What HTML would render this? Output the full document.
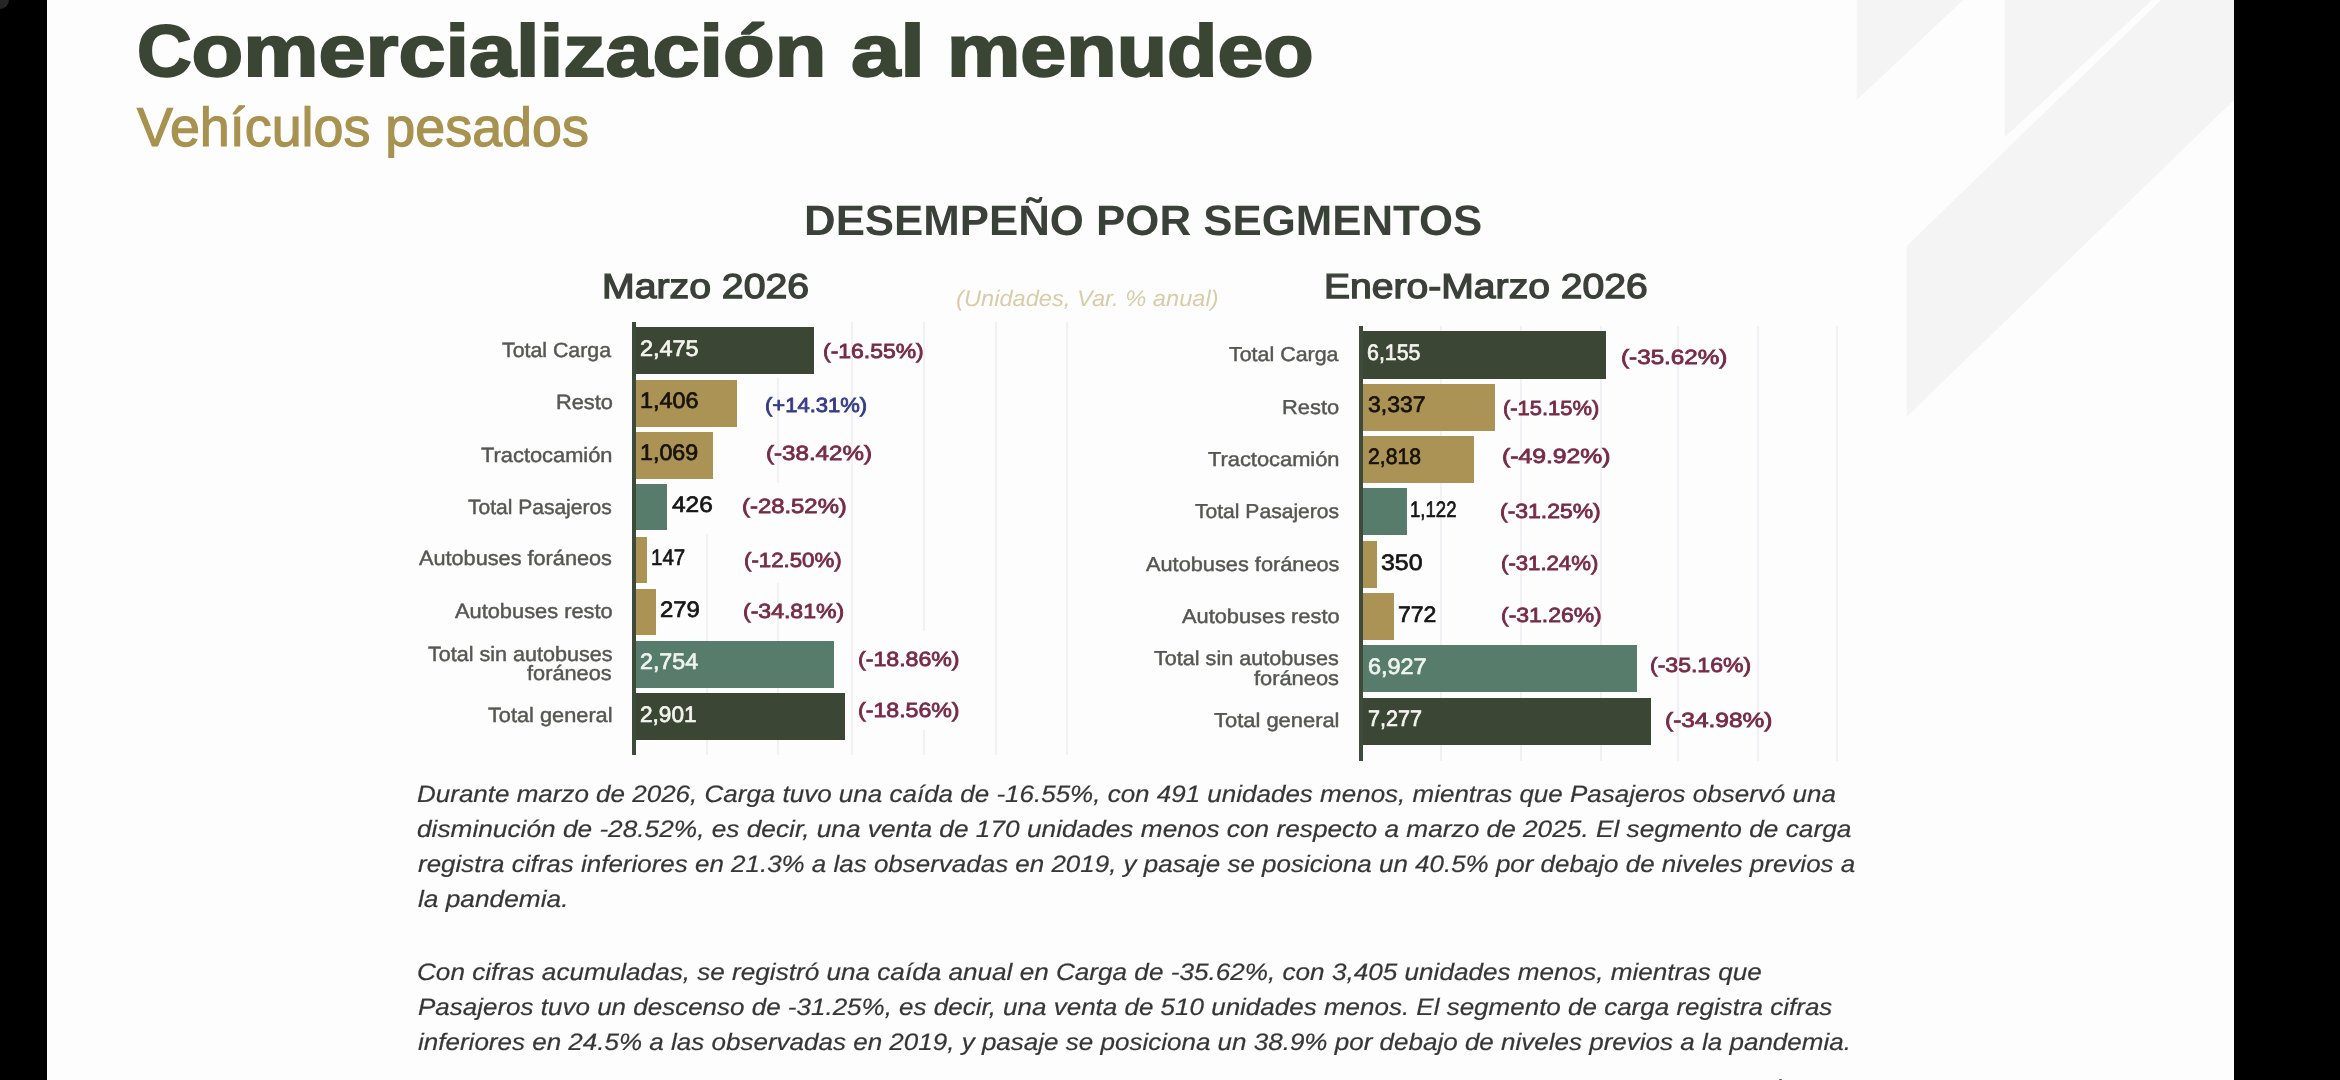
<!DOCTYPE html>
<html lang="es">
<head>
<meta charset="utf-8">
<title>Comercialización al menudeo — Vehículos pesados</title>
<style>
*{margin:0;padding:0;box-sizing:border-box}
html,body{width:2340px;height:1080px;overflow:hidden;background:#000}
body{font-family:"Liberation Sans",sans-serif;position:relative}
#slide{position:absolute;left:47px;top:0;width:2187px;height:1080px;background:#fdfdfd;overflow:hidden}
#deco{position:absolute;left:0;top:0;width:2340px;height:1080px}
#stage{position:absolute;left:0;top:0;width:2340px;height:1080px;filter:blur(.7px)}
.x{position:absolute;white-space:nowrap;line-height:1;text-rendering:geometricPrecision;transform-origin:0 0;display:block;font-weight:normal;font-style:normal}
h1,h2,h3,h4,p{font:inherit}
.h1,.h3{font-weight:bold}
.cap{display:inline-block;transform:scaleX(.895);transform-origin:0 50%;margin-right:-.078em}
.note,.para{font-style:italic}
.bar,.ax,.gl{position:absolute}
.gl{background:#f1f1f5;width:2px}
.ax{background:#3e4a3a}
</style>
</head>
<body>
<div id="slide"></div>
<svg id="deco" viewBox="0 0 2340 1080" width="2340" height="1080" aria-hidden="true">
<g fill="#f4f4f4">
<polygon points="1856.7,0 1963,0 1856.7,100"/>
<polygon points="2004.6,0 2152,0 2004.6,137.5"/>
<polygon points="2161,0 2234,0 2234,100 1906.7,416.7 1906.7,246"/>
</g>
<circle cx="0" cy="0" r="9" fill="#262626"/>
</svg>
<div id="stage">
<div class="chart" id="chart-mes">
<div class="gl" style="left:705.6px;top:534px;height:221px"></div>
<div class="gl" style="left:777.2px;top:378px;height:105px"></div>
<div class="gl" style="left:777.2px;top:583px;height:172px"></div>
<div class="gl" style="left:850.8px;top:322px;height:433px"></div>
<div class="gl" style="left:923.2px;top:322px;height:309px"></div>
<div class="gl" style="left:923.2px;top:730px;height:25px"></div>
<div class="gl" style="left:994.6px;top:322px;height:433px"></div>
<div class="gl" style="left:1065.8px;top:322px;height:433px"></div>
<div class="bar" style="left:635.6px;top:327.3px;width:178.4px;height:46.7px;background:#3b4634"></div>
<div class="bar" style="left:635.6px;top:379.6px;width:101.4px;height:47px;background:#ab9356"></div>
<div class="bar" style="left:635.6px;top:432.2px;width:77.1px;height:46.6px;background:#ab9356"></div>
<div class="bar" style="left:635.6px;top:484.1px;width:31.1px;height:46.4px;background:#587c6c"></div>
<div class="bar" style="left:635.6px;top:536.6px;width:11.1px;height:46px;background:#ab9356"></div>
<div class="bar" style="left:635.6px;top:588.6px;width:20.3px;height:46.4px;background:#ab9356"></div>
<div class="bar" style="left:635.6px;top:640.9px;width:198.4px;height:46.9px;background:#587c6c"></div>
<div class="bar" style="left:635.6px;top:693.2px;width:209.3px;height:46.8px;background:#3b4634"></div>
<div class="ax" style="left:632.1px;top:322px;width:4px;height:433.2px"></div>
</div>
<div class="chart" id="chart-acum">
<div class="gl" style="left:1440.4px;top:326px;height:434.6px"></div>
<div class="gl" style="left:1519.8px;top:326px;height:434.6px"></div>
<div class="gl" style="left:1599.8px;top:326px;height:434.6px"></div>
<div class="gl" style="left:1677.3px;top:326px;height:434.6px"></div>
<div class="gl" style="left:1757.3px;top:326px;height:434.6px"></div>
<div class="gl" style="left:1836px;top:326px;height:434.6px"></div>
<div class="bar" style="left:1362.8px;top:331.2px;width:243.5px;height:47.4px;background:#3b4634"></div>
<div class="bar" style="left:1362.8px;top:383.7px;width:132.2px;height:47px;background:#ab9356"></div>
<div class="bar" style="left:1362.8px;top:436.1px;width:111.5px;height:47px;background:#ab9356"></div>
<div class="bar" style="left:1362.8px;top:488.4px;width:44.2px;height:46.9px;background:#587c6c"></div>
<div class="bar" style="left:1362.8px;top:540.7px;width:14px;height:46.9px;background:#ab9356"></div>
<div class="bar" style="left:1362.8px;top:592.9px;width:30.9px;height:47px;background:#ab9356"></div>
<div class="bar" style="left:1362.8px;top:645.3px;width:274.2px;height:47.2px;background:#587c6c"></div>
<div class="bar" style="left:1362.8px;top:697.6px;width:288.2px;height:47.2px;background:#3b4634"></div>
<div class="ax" style="left:1359.1px;top:326px;width:4.2px;height:434.6px"></div>
</div>
<h1>
<span class="x h1" style="left:137.12px;top:15px;font-size:73px;color:#3a4534;transform:scaleX(1.1593);-webkit-text-stroke:2px #3a4534"><span class="cap">C</span>omercialización</span>
<span class="x h1" style="left:851.14px;top:15px;font-size:73px;color:#3a4534;transform:scaleX(1.2149);-webkit-text-stroke:2px #3a4534">al</span>
<span class="x h1" style="left:946.99px;top:15px;font-size:73px;color:#3a4534;transform:scaleX(1.1302);-webkit-text-stroke:2px #3a4534">menudeo</span>
</h1>
<h2 class="x h2" style="left:137.04px;top:100px;font-size:54.7px;color:#a89250;transform:scaleX(0.9842);-webkit-text-stroke:1.2px #a89250">Vehículos pesados</h2>
<h3 class="x h3" style="left:803.92px;top:200px;font-size:42.7px;color:#3a4138;transform:scaleX(1.0262)">DESEMPEÑO POR SEGMENTOS</h3>
<h4 class="x h4" style="left:601.83px;top:270px;font-size:34.7px;color:#3a4138;transform:scaleX(1.1306);-webkit-text-stroke:1.3px #3a4138">Marzo 2026</h4>
<h4 class="x h4" style="left:1324.04px;top:270px;font-size:34.7px;color:#3a4138;transform:scaleX(1.1268);-webkit-text-stroke:1.3px #3a4138">Enero-Marzo 2026</h4>
<div class="x note" style="left:955.82px;top:288px;font-size:22.6px;color:#d8cca9;transform:scaleX(1.0473)">(Unidades, Var. % anual)</div>
<div class="x lab" style="left:502.22px;top:341px;font-size:20.6px;color:#555752;transform:scaleX(1.0354);-webkit-text-stroke:0.45px #555752">Total Carga</div>
<div class="x lab" style="left:555.55px;top:393px;font-size:20.6px;color:#555752;transform:scaleX(1.0581);-webkit-text-stroke:0.45px #555752">Resto</div>
<div class="x lab" style="left:481.22px;top:446px;font-size:20.6px;color:#555752;transform:scaleX(1.0608);-webkit-text-stroke:0.45px #555752">Tractocamión</div>
<div class="x lab" style="left:468.43px;top:498px;font-size:20.6px;color:#555752;transform:scaleX(1.0204);-webkit-text-stroke:0.45px #555752">Total Pasajeros</div>
<div class="x lab" style="left:419.08px;top:549px;font-size:20.6px;color:#555752;transform:scaleX(1.0532);-webkit-text-stroke:0.45px #555752">Autobuses foráneos</div>
<div class="x lab" style="left:454.88px;top:602px;font-size:20.6px;color:#555752;transform:scaleX(1.0591);-webkit-text-stroke:0.45px #555752">Autobuses resto</div>
<div class="x lab" style="left:427.72px;top:645px;font-size:20.6px;color:#555752;transform:scaleX(1.0459);-webkit-text-stroke:0.45px #555752">Total sin autobuses</div>
<div class="x lab" style="left:527.47px;top:664px;font-size:20.6px;color:#555752;transform:scaleX(1.0563);-webkit-text-stroke:0.45px #555752">foráneos</div>
<div class="x lab" style="left:488.22px;top:706px;font-size:20.6px;color:#555752;transform:scaleX(1.0562);-webkit-text-stroke:0.45px #555752">Total general</div>
<div class="x val" style="left:640.19px;top:338px;font-size:22.4px;color:#f4f4ee;transform:scaleX(1.0459);-webkit-text-stroke:0.7px #f4f4ee">2,475</div>
<div class="x val" style="left:639.68px;top:390px;font-size:22.4px;color:#17130a;transform:scaleX(1.0449);-webkit-text-stroke:0.7px #17130a">1,406</div>
<div class="x val" style="left:639.69px;top:442px;font-size:22.4px;color:#17130a;transform:scaleX(1.0386);-webkit-text-stroke:0.7px #17130a">1,069</div>
<div class="x val" style="left:672.12px;top:494px;font-size:22.4px;color:#161616;transform:scaleX(1.0915);-webkit-text-stroke:0.7px #161616">426</div>
<div class="x val" style="left:651.45px;top:547px;font-size:22.4px;color:#161616;transform:scaleX(0.9152);-webkit-text-stroke:0.7px #161616">147</div>
<div class="x val" style="left:659.97px;top:599px;font-size:22.4px;color:#161616;transform:scaleX(1.0669);-webkit-text-stroke:0.7px #161616">279</div>
<div class="x val" style="left:640.19px;top:651px;font-size:22.4px;color:#eef5ee;transform:scaleX(1.0371);-webkit-text-stroke:0.7px #eef5ee">2,754</div>
<div class="x val" style="left:640.22px;top:704px;font-size:22.4px;color:#f4f4ee;transform:scaleX(1.0105);-webkit-text-stroke:0.7px #f4f4ee">2,901</div>
<div class="x pct" style="left:822.5px;top:342px;font-size:20.5px;color:#762c45;transform:scaleX(1.1191);-webkit-text-stroke:0.8px #762c45">(-16.55%)</div>
<div class="x pct" style="left:764.95px;top:396px;font-size:20.5px;color:#363b88;transform:scaleX(1.0729);-webkit-text-stroke:0.8px #363b88">(+14.31%)</div>
<div class="x pct" style="left:766.14px;top:444px;font-size:20.5px;color:#762c45;transform:scaleX(1.1769);-webkit-text-stroke:0.8px #762c45">(-38.42%)</div>
<div class="x pct" style="left:742.45px;top:497px;font-size:20.5px;color:#762c45;transform:scaleX(1.1645);-webkit-text-stroke:0.8px #762c45">(-28.52%)</div>
<div class="x pct" style="left:743.54px;top:551px;font-size:20.5px;color:#762c45;transform:scaleX(1.0850);-webkit-text-stroke:0.8px #762c45">(-12.50%)</div>
<div class="x pct" style="left:743.1px;top:602px;font-size:20.5px;color:#762c45;transform:scaleX(1.1236);-webkit-text-stroke:0.8px #762c45">(-34.81%)</div>
<div class="x pct" style="left:857.69px;top:650px;font-size:20.5px;color:#762c45;transform:scaleX(1.1281);-webkit-text-stroke:0.8px #762c45">(-18.86%)</div>
<div class="x pct" style="left:857.69px;top:701px;font-size:20.5px;color:#762c45;transform:scaleX(1.1281);-webkit-text-stroke:0.8px #762c45">(-18.56%)</div>
<div class="x lab" style="left:1228.76px;top:345px;font-size:20.2px;color:#555752;transform:scaleX(1.0605);-webkit-text-stroke:0.45px #555752">Total Carga</div>
<div class="x lab" style="left:1282.34px;top:398px;font-size:20.2px;color:#555752;transform:scaleX(1.0843);-webkit-text-stroke:0.45px #555752">Resto</div>
<div class="x lab" style="left:1208.26px;top:450px;font-size:20.2px;color:#555752;transform:scaleX(1.0817);-webkit-text-stroke:0.45px #555752">Tractocamión</div>
<div class="x lab" style="left:1194.97px;top:502px;font-size:20.2px;color:#555752;transform:scaleX(1.0440);-webkit-text-stroke:0.45px #555752">Total Pasajeros</div>
<div class="x lab" style="left:1145.88px;top:555px;font-size:20.2px;color:#555752;transform:scaleX(1.0775);-webkit-text-stroke:0.45px #555752">Autobuses foráneos</div>
<div class="x lab" style="left:1181.58px;top:607px;font-size:20.2px;color:#555752;transform:scaleX(1.0802);-webkit-text-stroke:0.45px #555752">Autobuses resto</div>
<div class="x lab" style="left:1154.36px;top:649px;font-size:20.2px;color:#555752;transform:scaleX(1.0695);-webkit-text-stroke:0.45px #555752">Total sin autobuses</div>
<div class="x lab" style="left:1254.43px;top:669px;font-size:20.2px;color:#555752;transform:scaleX(1.0811);-webkit-text-stroke:0.45px #555752">foráneos</div>
<div class="x lab" style="left:1214.36px;top:711px;font-size:20.2px;color:#555752;transform:scaleX(1.0856);-webkit-text-stroke:0.45px #555752">Total general</div>
<div class="x val" style="left:1367.02px;top:342px;font-size:22.4px;color:#f4f4ee;transform:scaleX(0.9548);-webkit-text-stroke:0.7px #f4f4ee">6,155</div>
<div class="x val" style="left:1367.84px;top:394px;font-size:22.4px;color:#17130a;transform:scaleX(1.0269);-webkit-text-stroke:0.7px #17130a">3,337</div>
<div class="x val" style="left:1367.77px;top:446px;font-size:22.4px;color:#17130a;transform:scaleX(0.9451);-webkit-text-stroke:0.7px #17130a">2,818</div>
<div class="x val" style="left:1410.46px;top:499px;font-size:22.4px;color:#161616;transform:scaleX(0.8291);-webkit-text-stroke:0.7px #161616">1,122</div>
<div class="x val" style="left:1380.68px;top:552px;font-size:22.4px;color:#161616;transform:scaleX(1.1131);-webkit-text-stroke:0.7px #161616">350</div>
<div class="x val" style="left:1398.39px;top:604px;font-size:22.4px;color:#161616;transform:scaleX(1.0283);-webkit-text-stroke:0.7px #161616">772</div>
<div class="x val" style="left:1367.65px;top:656px;font-size:22.4px;color:#eef5ee;transform:scaleX(1.0467);-webkit-text-stroke:0.7px #eef5ee">6,927</div>
<div class="x val" style="left:1367.74px;top:708px;font-size:22.4px;color:#f4f4ee;transform:scaleX(0.9616);-webkit-text-stroke:0.7px #f4f4ee">7,277</div>
<div class="x pct" style="left:1620.83px;top:348px;font-size:20.5px;color:#762c45;transform:scaleX(1.1826);-webkit-text-stroke:0.8px #762c45">(-35.62%)</div>
<div class="x pct" style="left:1502.56px;top:399px;font-size:20.5px;color:#762c45;transform:scaleX(1.0691);-webkit-text-stroke:0.8px #762c45">(-15.15%)</div>
<div class="x pct" style="left:1502.41px;top:447px;font-size:20.5px;color:#762c45;transform:scaleX(1.2053);-webkit-text-stroke:0.8px #762c45">(-49.92%)</div>
<div class="x pct" style="left:1499.5px;top:502px;font-size:20.5px;color:#762c45;transform:scaleX(1.1191);-webkit-text-stroke:0.8px #762c45">(-31.25%)</div>
<div class="x pct" style="left:1501.24px;top:554px;font-size:20.5px;color:#762c45;transform:scaleX(1.0805);-webkit-text-stroke:0.8px #762c45">(-31.24%)</div>
<div class="x pct" style="left:1501.2px;top:606px;font-size:20.5px;color:#762c45;transform:scaleX(1.1191);-webkit-text-stroke:0.8px #762c45">(-31.26%)</div>
<div class="x pct" style="left:1650.1px;top:656px;font-size:20.5px;color:#762c45;transform:scaleX(1.1236);-webkit-text-stroke:0.8px #762c45">(-35.16%)</div>
<div class="x pct" style="left:1664.82px;top:711px;font-size:20.5px;color:#762c45;transform:scaleX(1.1940);-webkit-text-stroke:0.8px #762c45">(-34.98%)</div>
<p>
<span class="x para" style="left:416.9px;top:783px;font-size:23.8px;color:#363636;transform:scaleX(1.0922);-webkit-text-stroke:0.2px #363636">Durante marzo de 2026, Carga tuvo una caída de -16.55%, con 491 unidades menos, mientras que Pasajeros observó una</span>
<span class="x para" style="left:417.45px;top:818px;font-size:23.8px;color:#363636;transform:scaleX(1.1030);-webkit-text-stroke:0.2px #363636">disminución de -28.52%, es decir, una venta de 170 unidades menos con respecto a marzo de 2025. El segmento de carga</span>
<span class="x para" style="left:417.79px;top:853px;font-size:23.8px;color:#363636;transform:scaleX(1.0908);-webkit-text-stroke:0.2px #363636">registra cifras inferiores en 21.3% a las observadas en 2019, y pasaje se posiciona un 40.5% por debajo de niveles previos a</span>
<span class="x para" style="left:417.78px;top:888px;font-size:23.8px;color:#363636;transform:scaleX(1.1040);-webkit-text-stroke:0.2px #363636">la pandemia.</span>
</p>
<p>
<span class="x para" style="left:416.8px;top:961px;font-size:23.8px;color:#363636;transform:scaleX(1.0978);-webkit-text-stroke:0.2px #363636">Con cifras acumuladas, se registró una caída anual en Carga de -35.62%, con 3,405 unidades menos, mientras que</span>
<span class="x para" style="left:417.51px;top:996px;font-size:23.8px;color:#363636;transform:scaleX(1.0921);-webkit-text-stroke:0.2px #363636">Pasajeros tuvo un descenso de -31.25%, es decir, una venta de 510 unidades menos. El segmento de carga registra cifras</span>
<span class="x para" style="left:417.76px;top:1031px;font-size:23.8px;color:#363636;transform:scaleX(1.0930);-webkit-text-stroke:0.2px #363636">inferiores en 24.5% a las observadas en 2019, y pasaje se posiciona un 38.9% por debajo de niveles previos a la pandemia.</span>
</p>
<div class="tick" style="position:absolute;left:1779.4px;top:1078.6px;width:2.8px;height:1.6px;background:#555;border-radius:1px 1px 0 0"></div>
</div>
</body>
</html>
